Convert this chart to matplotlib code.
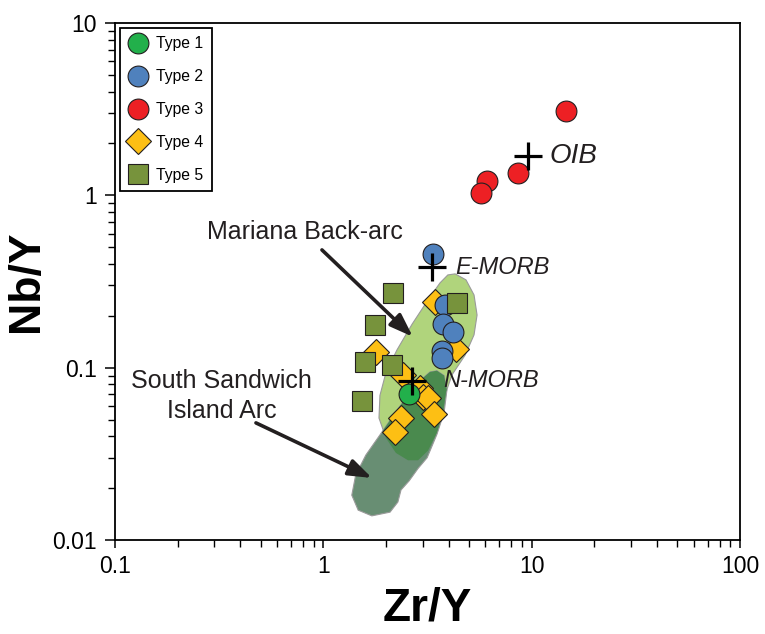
import numpy as np
import matplotlib.pyplot as plt
from matplotlib.patches import Polygon
from matplotlib.ticker import FuncFormatter, NullFormatter, LogLocator

plt.rcParams['font.family'] = ['Liberation Sans', 'DejaVu Sans']

# sample data (Zr/Y, Nb/Y)
t1_zr = [2.58]
t1_nb = [0.070]

t2_zr = [3.35, 3.84, 3.77, 4.18, 3.73, 3.72]
t2_nb = [0.456, 0.231, 0.178, 0.160, 0.125, 0.113]

t3_zr = [14.6, 8.63, 6.09, 5.70]
t3_nb = [3.08, 1.35, 1.21, 1.03]

t4_zr = [3.44, 4.35, 1.80, 2.41, 2.91, 3.02, 3.18, 3.38, 2.35, 2.21]
t4_nb = [0.241, 0.128, 0.124, 0.091, 0.076, 0.068, 0.067, 0.054, 0.051, 0.0425]

t5_zr = [2.15, 4.37, 1.77, 1.58, 2.14, 1.53]
t5_nb = [0.270, 0.238, 0.177, 0.108, 0.103, 0.064]

# reference compositions
ref_names = ['OIB', 'E-MORB', 'N-MORB']
ref_zr = [9.64, 3.34, 2.66]
ref_nb = [1.69, 0.382, 0.084]

# field outlines
mar_zr = [4.29, 4.84, 5.29, 5.47, 5.29, 4.79, 4.15, 3.88, 3.75, 3.51, 3.18, 2.85,
          2.55, 2.23, 2.00, 1.85, 1.87, 2.00, 2.26, 2.67, 3.18, 3.63, 3.96]
mar_nb = [0.350, 0.323, 0.264, 0.202, 0.155, 0.118, 0.091, 0.072, 0.055, 0.042, 0.033, 0.029,
          0.029, 0.032, 0.039, 0.051, 0.069, 0.094, 0.127, 0.179, 0.247, 0.310, 0.345]

ss_zr = [3.51, 3.80, 3.92, 3.80, 3.51, 3.15, 2.85, 2.58, 2.36, 2.28, 2.09, 1.71,
         1.47, 1.37, 1.43, 1.60, 1.87, 2.21, 2.61, 3.01, 3.25]
ss_nb = [0.096, 0.090, 0.074, 0.055, 0.041, 0.030, 0.026, 0.022, 0.0195, 0.0166, 0.0145, 0.0138,
         0.0149, 0.0182, 0.0238, 0.0311, 0.0407, 0.0546, 0.0722, 0.0871, 0.0944]

fig = plt.figure(figsize=(7.65, 6.34), dpi=100)
ax = fig.add_axes([0.1503, 0.1483, 0.817, 0.8155])
ax.set_xscale('log')
ax.set_yscale('log')
ax.set_xlim(0.1, 100)
ax.set_ylim(0.01, 10)

# fields
mar = Polygon(np.column_stack([mar_zr, mar_nb]), closed=True, fc='#b0d47c', ec='#9a9a9a', lw=0.8, zorder=1)
ax.add_patch(mar)
ss = Polygon(np.column_stack([ss_zr, ss_nb]), closed=True, fc='#688e73', ec='#9a9a9a', lw=0.8, zorder=2)
ax.add_patch(ss)
overlap = Polygon(np.column_stack([ss_zr, ss_nb]), closed=True, fc='#4a8a4e', ec='none', zorder=3)
ax.add_patch(overlap)
overlap.set_clip_path(mar)

txtc = '#231f20'
arrow = dict(arrowstyle='-|>,head_length=1.4,head_width=0.5', color=txtc, lw=2.6, shrinkA=0, shrinkB=0)
ax.text(0.817, 0.612, 'Mariana Back-arc', fontsize=18, color=txtc, ha='center', va='center', zorder=4)
ax.annotate('', xy=(2.69, 0.151), xytext=(0.985, 0.482), arrowprops=arrow, zorder=4)
ax.text(0.326, 0.0685, 'South Sandwich\nIsland Arc', fontsize=18, color=txtc, ha='center', va='center',
        linespacing=1.3, zorder=4)
ax.annotate('', xy=(1.712, 0.0229), xytext=(0.475, 0.0478), arrowprops=arrow, zorder=4)

ec = '#231f20'
ax.plot(t4_zr, t4_nb, 'D', ms=13.5, mfc='#fdbf14', mec=ec, mew=0.8, ls='none', label='Type 4', zorder=5)
ax.plot(t1_zr, t1_nb, 'o', ms=15, mfc='#22b04b', mec=ec, mew=0.8, ls='none', label='Type 1', zorder=6)
ax.plot(t2_zr, t2_nb, 'o', ms=15, mfc='#4f81bd', mec=ec, mew=0.8, ls='none', label='Type 2', zorder=6)
ax.plot(t3_zr, t3_nb, 'o', ms=15, mfc='#ed2024', mec=ec, mew=0.8, ls='none', label='Type 3', zorder=6)
ax.plot(t5_zr, t5_nb, 's', ms=15, mfc='#77933c', mec=ec, mew=0.8, ls='none', label='Type 5', zorder=7)

ax.plot(ref_zr, ref_nb, '+', ms=19.5, mew=2.3, color='black', ls='none', zorder=8)
label_shift = {'OIB': 1.27, 'E-MORB': 1.29, 'N-MORB': 1.42}
label_size = {'OIB': 20, 'E-MORB': 17, 'N-MORB': 17}
for name, x, y in zip(ref_names, ref_zr, ref_nb):
    ax.text(x * label_shift[name], y, name, fontsize=label_size[name], style='italic', color=txtc,
            ha='left', va='center', zorder=8)

handles, labels = ax.get_legend_handles_labels()
order = [labels.index(f'Type {i}') for i in range(1, 6)]
leg = ax.legend([handles[i] for i in order], [labels[i] for i in order], loc='upper left',
                fontsize=11.3, numpoints=1, fancybox=False, framealpha=1, edgecolor='black',
                borderaxespad=0.3, borderpad=0.55, handlelength=1.2, handletextpad=0.55,
                labelspacing=1.14)
leg.get_frame().set_linewidth(1.3)
leg.set_zorder(10)

fmt = FuncFormatter(lambda v, _: f'{v:g}')
ax.xaxis.set_major_formatter(fmt)
ax.yaxis.set_major_formatter(fmt)
ax.xaxis.set_minor_locator(LogLocator(base=10, subs=np.arange(2, 10)))
ax.yaxis.set_minor_locator(LogLocator(base=10, subs=np.arange(2, 10)))
ax.xaxis.set_minor_formatter(NullFormatter())
ax.yaxis.set_minor_formatter(NullFormatter())
ax.tick_params(axis='x', which='major', direction='out', length=6, width=1.1, labelsize=16.5, pad=5)
ax.tick_params(axis='x', which='minor', direction='out', length=5, width=1.0)
ax.tick_params(axis='y', which='major', direction='out', length=7, width=1.1, labelsize=16.5, pad=6)
ax.tick_params(axis='y', which='minor', direction='out', length=5, width=1.0)
for sp in ax.spines.values():
    sp.set_linewidth(1.3)

ax.set_xlabel('Zr/Y', fontsize=33, fontweight='bold', labelpad=6)
ax.set_ylabel('Nb/Y', fontsize=32, fontweight='bold', labelpad=4)

fig.savefig('out.png', dpi=100)
